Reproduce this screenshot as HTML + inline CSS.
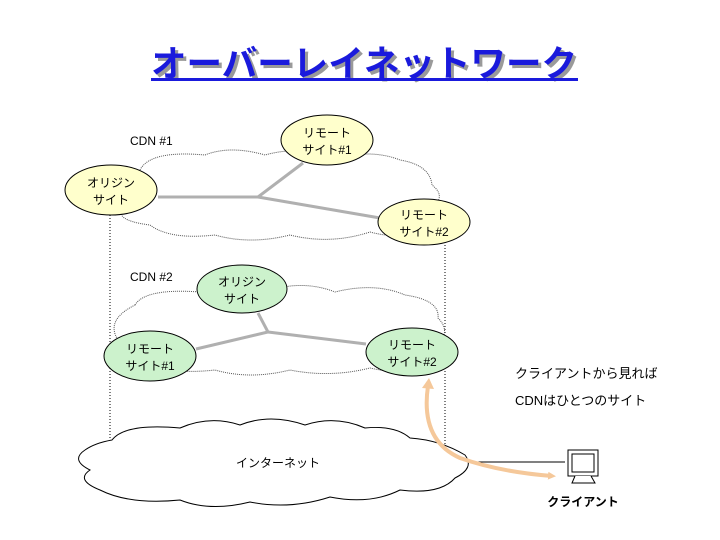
<!DOCTYPE html>
<html><head><meta charset="utf-8"><style>
body{margin:0;background:#fff;}
svg{display:block;font-family:"Liberation Sans","Noto Sans CJK JP",sans-serif;}
</style></head><body>
<svg width="720" height="540" viewBox="0 0 720 540" xmlns="http://www.w3.org/2000/svg">
<defs>
<marker id="ah" markerWidth="8" markerHeight="8" refX="4" refY="4" orient="auto" markerUnits="userSpaceOnUse"><path d="M0,0 L8,4 L0,8 Z" fill="#f5c89a"/></marker>
</defs>
<!-- title -->
<text x="367" y="79" text-anchor="middle" font-size="36" font-weight="bold" fill="#9a9a9a" textLength="426" lengthAdjust="spacingAndGlyphs">オーバーレイネットワーク</text>
<text x="364" y="76" text-anchor="middle" font-size="36" font-weight="bold" fill="#1a1adc" textLength="426" lengthAdjust="spacingAndGlyphs">オーバーレイネットワーク</text>
<rect x="151" y="78" width="427" height="3" fill="#1a1adc"/>
<!-- vertical dotted -->
<line x1="110" y1="215" x2="110" y2="450" stroke="#000" stroke-width="1" stroke-dasharray="1,2"/>
<line x1="445" y1="242" x2="445" y2="450" stroke="#000" stroke-width="1" stroke-dasharray="1,2"/>
<!-- cloud 1 -->
<path d="M140,170 Q150,150 205,155 Q230,145 265,155 Q300,145 330,160 Q370,148 400,160 Q430,165 432,185 Q445,195 435,205 Q445,220 420,230 Q400,240 370,232 Q330,245 290,235 Q250,245 215,235 Q170,240 150,225 Q110,220 125,205 Q110,190 140,170 Z" fill="#fff" stroke="#555" stroke-width="1" stroke-dasharray="1,1"/>
<!-- cloud 2 -->
<path d="M135,305 Q145,288 200,292 Q230,280 270,290 Q305,280 335,292 Q375,282 405,295 Q440,300 438,318 Q450,330 440,342 Q450,358 425,365 Q400,375 370,368 Q330,378 290,370 Q250,380 215,370 Q170,375 150,362 Q105,355 118,340 Q105,320 135,305 Z" fill="#fff" stroke="#555" stroke-width="1" stroke-dasharray="1,1"/>
<!-- internet cloud -->
<path d="M112,440 Q125,423 180,428 Q210,415 240,425 Q270,413 305,425 Q335,415 365,428 Q395,425 410,438 Q440,440 465,455 Q475,468 455,478 Q440,495 400,490 Q370,505 330,497 Q290,510 250,502 Q210,512 180,500 Q130,505 100,490 Q75,480 90,470 Q70,460 85,450 Q95,443 112,440 Z" fill="#fff" stroke="#000" stroke-width="1"/>
<text x="278" y="467" text-anchor="middle" font-size="12">インターネット</text>
<!-- lines -->
<g stroke="#b0b0b0" stroke-width="3" fill="none">
<path d="M158,197 L258,197 L303,163 M258,197 L380,218"/>
<path d="M258,313 L268,332 L196,349 M268,332 L366,344"/>
</g>
<!-- ellipses -->
<g stroke="#000" stroke-width="1">
<ellipse cx="111" cy="190" rx="46" ry="25" fill="#ffffcc"/>
<ellipse cx="327" cy="140" rx="46" ry="25" fill="#ffffcc"/>
<ellipse cx="424" cy="222" rx="46" ry="23" fill="#ffffcc"/>
<ellipse cx="242" cy="289" rx="45" ry="24" fill="#ccf2cc"/>
<ellipse cx="150" cy="356" rx="46" ry="25" fill="#ccf2cc"/>
<ellipse cx="412" cy="352" rx="46" ry="24" fill="#ccf2cc"/>
</g>
<g font-size="12" text-anchor="middle" fill="#000">
<text x="111" y="187">オリジン</text><text x="111" y="204">サイト</text>
<text x="327" y="137">リモート</text><text x="327" y="154">サイト#1</text>
<text x="424" y="219">リモート</text><text x="424" y="236">サイト#2</text>
<text x="242" y="286">オリジン</text><text x="242" y="303">サイト</text>
<text x="150" y="353">リモート</text><text x="150" y="370">サイト#1</text>
<text x="412" y="349">リモート</text><text x="412" y="366">サイト#2</text>
</g>
<text x="130" y="145" font-size="12">CDN #1</text>
<text x="130" y="281" font-size="12">CDN #2</text>
<!-- client -->
<line x1="470" y1="462" x2="565" y2="462" stroke="#000"/>
<rect x="568" y="450" width="30" height="26" fill="#fff" stroke="#000"/>
<rect x="572" y="454" width="22" height="18" fill="#fff" stroke="#000"/>
<path d="M575,476 L572,483 L595,483 L591,476" fill="#fff" stroke="#000"/>
<text x="583" y="506" text-anchor="middle" font-size="12" font-weight="bold">クライアント</text>
<!-- orange arrow -->
<path d="M428,386 Q420,440 460,458 Q500,472 552,476" fill="none" stroke="#f5c89a" stroke-width="4" marker-start="url(#ahs)" marker-end="url(#ah)"/>
<path d="M422,388 L429,378 L434,389 Z" fill="#f5c89a"/>
<text x="515" y="378" font-size="13">クライアントから見れば</text>
<text x="515" y="405" font-size="13">CDNはひとつのサイト</text>
</svg>
</body></html>
